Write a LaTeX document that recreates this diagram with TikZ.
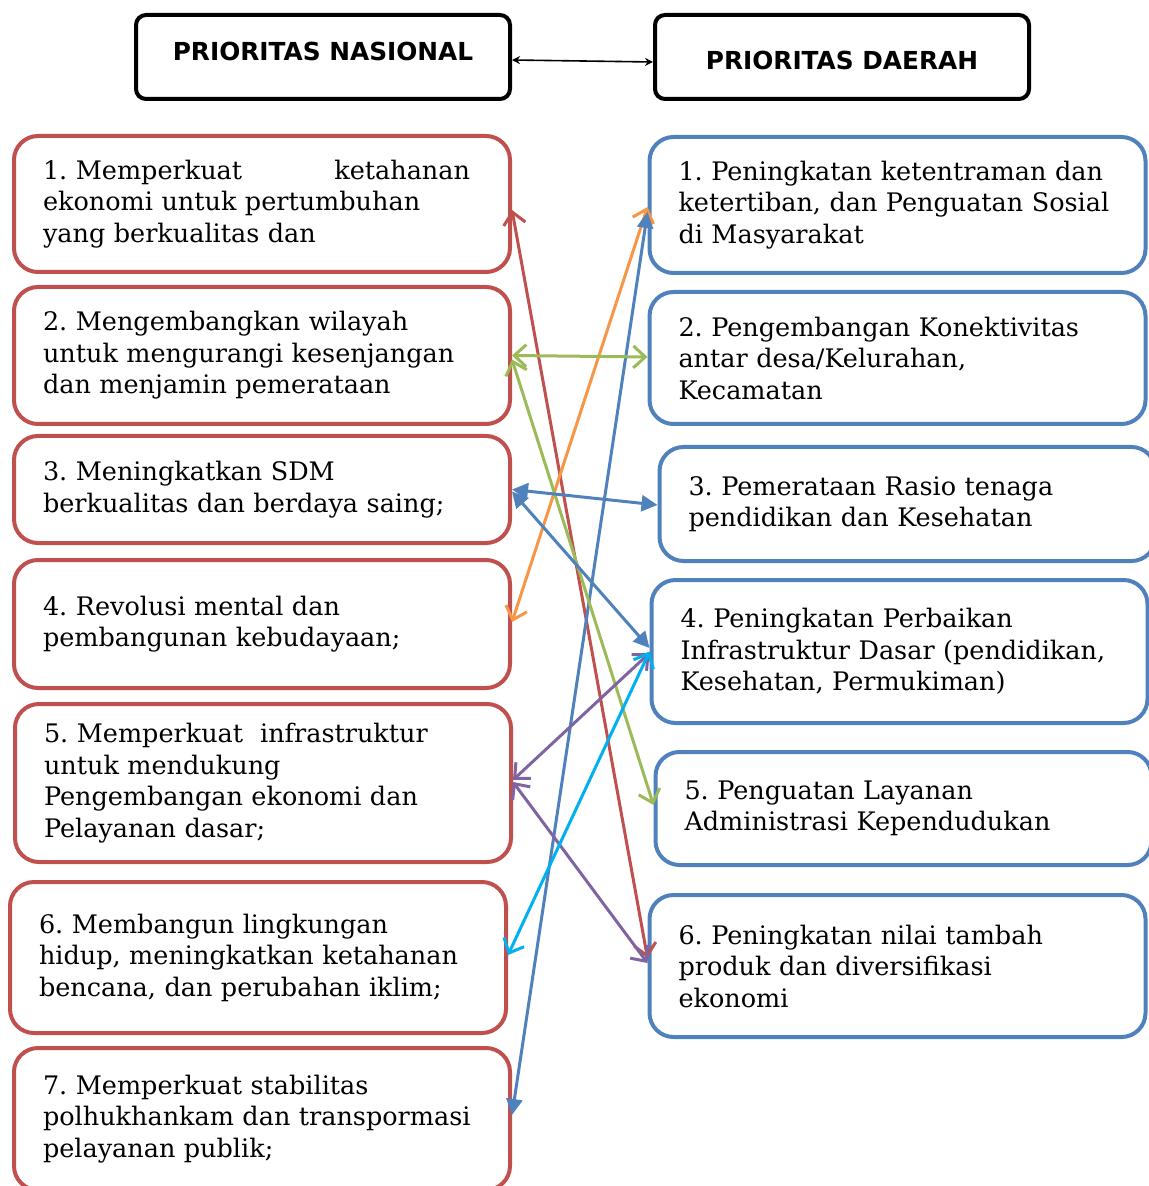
\documentclass[tikz,border=0pt]{standalone}
\usepackage{xcolor}
\usepackage{fontspec}
\setmainfont{DejaVu Serif}
\setsansfont{DejaVu Sans}
\usetikzlibrary{arrows.meta, positioning}
\frenchspacing

\definecolor{nasred}{HTML}{C0504D}
\definecolor{dablue}{HTML}{4F81BD}
\definecolor{lkgreen}{HTML}{9BBB59}
\definecolor{lkorange}{HTML}{F79646}
\definecolor{lkpurple}{HTML}{8064A2}
\definecolor{lkcyan}{HTML}{00B0F0}

\begin{document}
\begin{tikzpicture}[x=0.5pt, y=-0.5pt,
    header/.style={draw=black, line width=2pt, rounded corners=5pt, minimum width=187pt, minimum height=42pt, align=center, font=\sffamily\bfseries\fontsize{12.4}{14}\selectfont},
    item/.style={line width=2pt, rounded corners=12pt, minimum width=248pt, inner xsep=14.5pt, text width=219pt, align=left, font=\fontsize{12.75}{15.75}\selectfont},
    nas/.style={item, draw=nasred},
    dae/.style={item, draw=dablue},
    openlink/.style={line width=1.5pt, {Straight Barb[length=6pt, width=11pt, line width=1.5pt]}-{Straight Barb[length=6pt, width=11pt, line width=1.5pt]}},
    solidlink/.style={line width=1.5pt, dablue, {Triangle[length=8pt, width=8pt]}-{Triangle[length=8pt, width=8pt]}}
]
    \useasboundingbox (0,0) rectangle (1148,1186);

    % Headers
    \node[header, text height=9pt, text depth=5pt] (pn) at (323,57) {PRIORITAS NASIONAL};
    \node[header, text height=13pt, text depth=0pt] (pd) at (842,57) {PRIORITAS DAERAH};

    % Prioritas nasional (left column)
    \node[nas, minimum height=68pt] (n1) at (262,204) {\makebox[213.5pt][l]{1. Memperkuat\hfill ketahanan}\\ ekonomi untuk pertumbuhan\\ yang berkualitas dan};
    \node[nas, minimum height=68.5pt] (n2) at (262,355.5) {2. Mengembangkan wilayah\\ untuk mengurangi kesenjangan\\ dan menjamin pemerataan};
    \node[nas, minimum height=53.5pt] (n3) at (262,489.5) {3. Meningkatkan SDM\\ berkualitas dan berdaya saing;};
    \node[nas, minimum height=64pt] (n4) at (262,624) {4. Revolusi mental dan\\ pembangunan kebudayaan;};
    \node[nas, minimum height=79pt] (n5) at (263,783) {5. Memperkuat\ \ infrastruktur\\ untuk mendukung\\ Pengembangan ekonomi dan\\ Pelayanan dasar;};
    \node[nas, minimum height=75.5pt] (n6) at (258,957.5) {6. Membangun lingkungan\\ hidup, meningkatkan ketahanan\\ bencana, dan perubahan iklim;};
    \node[nas, minimum height=71pt] (n7) at (262,1119) {7. Memperkuat stabilitas\\ polhukhankam dan transpormasi\\ pelayanan publik;};

    % Prioritas daerah (right column)
    \node[dae, minimum height=68pt] (d1) at (897.5,205) {1. Peningkatan ketentraman dan\\ ketertiban, dan Penguatan Sosial\\ di Masyarakat};
    \node[dae, minimum height=66pt] (d2) at (897.5,358) {2. Pengembangan Konektivitas\\ antar desa/Kelurahan,\\ Kecamatan};
    \node[dae, minimum height=57pt] (d3) at (907.5,504) {3. Pemerataan Rasio tenaga\\ pendidikan dan Kesehatan};
    \node[dae, minimum height=71.5pt, minimum width=245.5pt] (d4) at (899.5,651.5) {4. Peningkatan Perbaikan\\ Infrastruktur Dasar (pendidikan,\\ Kesehatan, Permukiman)};
    \node[dae, minimum height=56.5pt] (d5) at (903.5,808.5) {5. Penguatan Layanan\\ Administrasi Kependudukan};
    \node[dae, minimum height=71pt] (d6) at (897.5,966) {6. Peningkatan nilai tambah\\ produk dan diversifikasi\\ ekonomi};

    % Header link
    \draw[line width=0.8pt, {Stealth[length=4pt, width=4pt]}-{Stealth[length=4pt, width=4pt]}] ([yshift=-1.5pt]pn.east) -- ([yshift=-2.5pt]pd.west);

    % Links between priorities
    \draw[openlink, nasred] ([yshift=-3pt]n1.east) -- ([yshift=4pt]d6.west);
    \draw[openlink, lkorange] ([yshift=1pt]n4.east) -- ([yshift=-1pt]d1.west);
    \draw[solidlink] ([yshift=2pt]n7.east) -- ([yshift=-3.5pt]d1.west);
    \draw[openlink, lkgreen] (n2.east) -- ([yshift=0.5pt]d2.west);
    \draw[openlink, lkgreen] ([yshift=-2pt]n2.east) -- ([yshift=1.75pt]d5.west);
    \draw[solidlink] (n3.east) -- ([yshift=-0.5pt]d3.west);
    \draw[solidlink] ([yshift=-1pt]n3.east) -- ([yshift=1.75pt]d4.west);
    \draw[openlink, lkpurple] ([yshift=1.5pt]n5.east) -- ([yshift=-0.75pt]d4.west);
    \draw[openlink, lkpurple] ([yshift=0.5pt]n5.east) -- ([yshift=1.5pt]d6.west);
    \draw[openlink, lkcyan] (d4.west) -- ([yshift=1.25pt]n6.east);

\end{tikzpicture}
\end{document}
